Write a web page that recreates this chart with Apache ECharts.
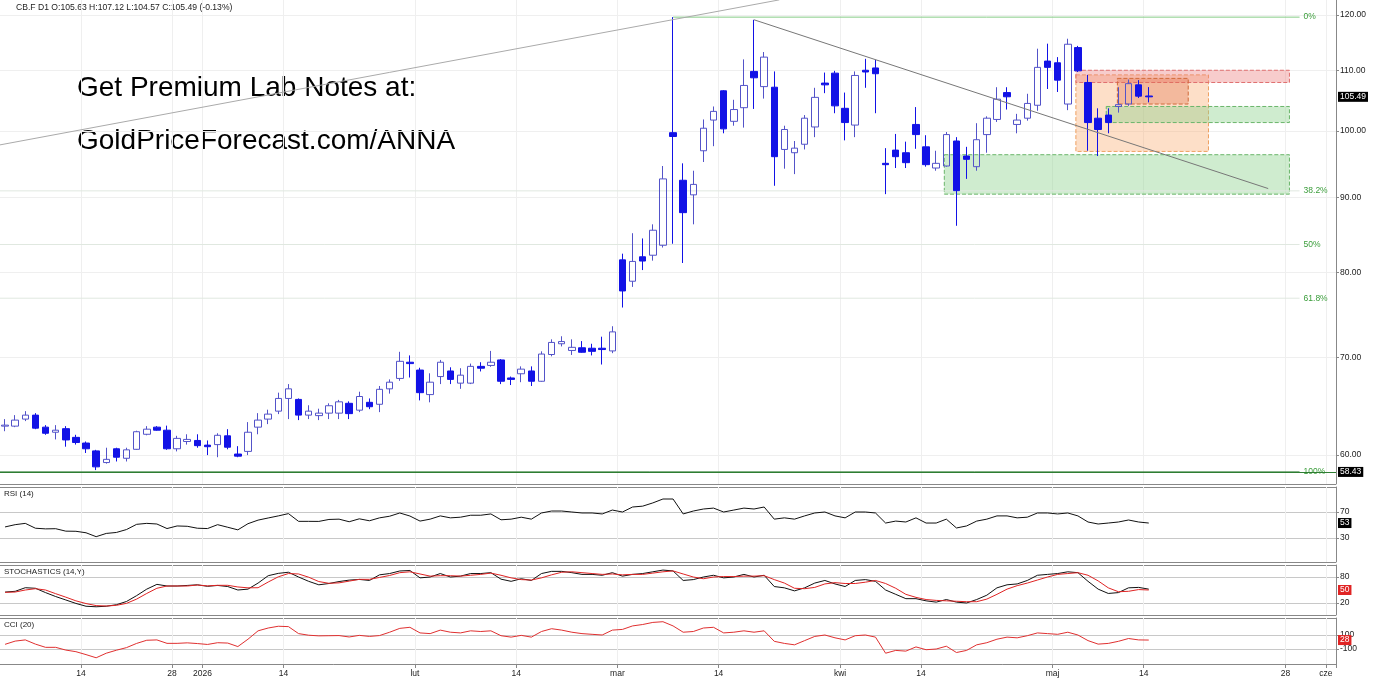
<!DOCTYPE html>
<html>
<head>
<meta charset="utf-8">
<script src="https://cdn.jsdelivr.net/npm/echarts@6/dist/echarts.min.js"></script>
<style>html,body{margin:0;padding:0;background:#fff}#main{width:1386px;height:682px}</style>
</head>
<body>
<div id="main"></div>
<script>
// sesje handlowe do 14 maja, dalej dni kalendarzowe (obszar przyszlosci)
var holidays = ['2025-12-25', '2026-01-01', '2026-04-03'];
var firstDay = '2025-12-03', lastTradeDay = '2026-05-14', lastDay = '2026-06-01';
var dates = [];
(function () {
  var d = new Date(firstDay + 'T00:00:00Z');
  while (d.toISOString().slice(0, 10) <= lastDay) {
    var s = d.toISOString().slice(0, 10), wd = d.getUTCDay();
    if (s > lastTradeDay || (wd !== 0 && wd !== 6 && holidays.indexOf(s) < 0)) dates.push(s);
    d.setUTCDate(d.getUTCDate() + 1);
  }
})();

var tickDates = ['2025-12-15', '2025-12-29', '2026-01-02', '2026-01-14', '2026-02-02', '2026-02-16', '2026-03-02',
  '2026-03-16', '2026-04-01', '2026-04-14', '2026-05-01', '2026-05-14', '2026-05-28', '2026-06-01'];
var tickTexts = ['14', '28', '2026', '14', 'lut', '14', 'mar', '14', 'kwi', '14', 'maj', '14', '28', 'cze'];

var open = [62.8, 62.8, 63.5, 63.9, 62.7, 62.2, 62.55, 61.7, 61.15, 60.4,
  59.3, 60.6, 59.7, 60.55, 62.0, 62.7, 62.4, 60.6, 61.3, 61.4,
  60.95, 61.0, 61.85, 60.1, 60.35, 62.7, 63.5, 64.3, 65.6, 65.5,
  63.9, 63.85, 64.1, 64.1, 65.1, 64.4, 65.2, 65.0, 66.6, 67.7,
  69.45, 68.6, 66.0, 67.9, 68.5, 67.2, 67.2, 69.0, 69.1, 69.7,
  67.75, 68.2, 68.5, 67.4, 70.3, 71.5, 70.75, 71.05, 71.0, 71.0,
  70.7, 81.6, 78.9, 82.0, 82.2, 83.5, 99.7, 92.5, 90.4, 96.9,
  101.7, 106.5, 101.5, 103.7, 109.8, 107.2, 107.1, 97.1, 96.6, 97.9,
  100.6, 107.8, 109.5, 103.6, 100.9, 110.0, 110.4, 95.0, 97.0, 96.6,
  101.0, 97.5, 94.3, 94.6, 98.4, 96.1, 94.5, 99.4, 101.8, 106.2,
  101.0, 102.0, 104.1, 111.6, 111.3, 104.3, 114.0, 107.9, 102.0, 102.5,
  103.9, 104.3, 107.5, 105.63];
var close = [62.9, 63.4, 63.9, 62.6, 62.1, 62.4, 61.45, 61.2, 60.6, 58.9,
  59.6, 59.8, 60.5, 62.25, 62.5, 62.4, 60.6, 61.6, 61.5, 60.9,
  60.8, 61.9, 60.75, 59.9, 62.2, 63.4, 64.0, 65.6, 66.6, 63.9,
  64.3, 64.1, 64.85, 65.25, 64.05, 65.8, 64.75, 66.55, 67.3, 69.55,
  69.3, 66.2, 67.3, 69.45, 67.6, 68.05, 69.0, 68.8, 69.45, 67.4,
  67.6, 68.7, 67.4, 70.35, 71.65, 71.75, 71.1, 70.55, 70.65, 70.85,
  72.85, 77.7, 81.4, 81.45, 85.5, 92.7, 99.1, 87.9, 91.9, 100.4,
  103.1, 100.3, 103.4, 107.4, 108.7, 112.3, 96.0, 100.2, 97.3, 102.0,
  105.4, 107.5, 104.0, 101.3, 109.1, 109.7, 109.4, 94.8, 96.0, 95.1,
  99.4, 94.8, 95.0, 99.4, 91.0, 95.6, 98.6, 102.0, 105.1, 105.5,
  101.7, 104.4, 110.5, 110.5, 108.3, 114.6, 109.9, 101.3, 100.2, 101.3,
  104.2, 107.7, 105.6, 105.49];
var low = [62.3, 62.7, 63.3, 62.5, 61.95, 61.5, 60.8, 61.0, 60.2, 58.6,
  59.2, 59.4, 59.4, 60.5, 61.9, 62.35, 60.5, 60.35, 61.0, 60.7,
  60.0, 59.8, 60.55, 59.8, 60.0, 62.0, 63.0, 64.0, 63.5, 63.4,
  63.5, 63.4, 63.5, 63.5, 63.5, 64.2, 64.5, 64.2, 66.1, 67.45,
  67.8, 65.4, 65.2, 67.1, 67.1, 66.6, 67.1, 68.45, 68.95, 67.1,
  67.0, 67.3, 66.9, 67.35, 70.1, 71.2, 70.25, 70.5, 70.2, 69.2,
  70.45, 75.7, 78.2, 80.3, 81.5, 83.2, 83.7, 81.2, 86.3, 95.2,
  97.6, 99.6, 100.8, 100.5, 103.5, 105.2, 91.7, 94.2, 93.4, 97.1,
  99.0, 106.1, 102.8, 98.5, 99.0, 107.0, 102.8, 90.5, 94.3, 94.3,
  97.2, 94.5, 93.9, 94.5, 86.1, 92.7, 93.9, 96.6, 101.4, 103.4,
  99.6, 101.6, 103.2, 106.8, 106.3, 103.3, 109.7, 96.9, 96.1, 99.6,
  102.9, 104.0, 105.3, 104.57];
var high = [63.5, 63.9, 64.3, 64.1, 62.9, 62.9, 62.8, 61.95, 61.3, 60.5,
  60.7, 60.7, 60.7, 62.35, 62.8, 62.8, 62.85, 61.85, 62.0, 62.0,
  61.4, 62.1, 62.5, 60.85, 63.2, 64.1, 64.45, 66.2, 67.1, 65.6,
  64.9, 64.55, 65.1, 65.45, 65.3, 66.3, 65.6, 66.9, 67.6, 70.6,
  70.2, 68.85, 68.25, 69.7, 68.9, 68.8, 69.3, 69.45, 70.7, 69.8,
  67.9, 69.0, 69.0, 70.65, 72.0, 72.35, 72.0, 71.8, 71.5, 72.3,
  73.5, 82.4, 85.1, 84.4, 86.3, 94.6, 119.6, 95.0, 93.9, 101.8,
  103.9, 106.6, 105.0, 111.9, 119.1, 113.2, 109.8, 100.8, 98.4, 102.5,
  107.0, 109.6, 109.9, 106.2, 109.8, 112.0, 111.8, 97.3, 99.5, 98.3,
  103.8, 99.3, 96.9, 99.8, 99.0, 97.5, 101.2, 102.3, 107.1, 107.1,
  102.7, 106.0, 113.8, 114.7, 112.3, 115.6, 114.3, 109.2, 103.6, 103.6,
  107.1, 108.4, 108.3, 107.12];

var rsi = [47, 50.5, 52.5, 45, 44, 44.3, 40.5, 40.3, 38, 32,
  37, 38.5, 43, 51, 52.5, 51.5, 44.5, 48.5, 48, 45,
  44.5, 50.5, 46.5, 42.5, 52, 57.5, 60.8, 64, 67.5, 55.6,
  55.6, 55.5, 58.5, 59, 55, 59.5, 56.5, 61, 63.5, 68.5,
  63.8, 56, 59, 64, 61, 62, 65, 65, 67, 58,
  59, 62, 59, 68.5, 71.5, 71.5, 70, 68.5, 68.5, 67,
  73, 70, 77.7, 79, 84, 90, 90, 67, 71.5, 74.6,
  76, 70, 73, 76, 74.6, 77.7, 59, 61, 59, 64,
  68.5, 70, 64, 61, 70, 70, 68.5, 53, 56, 54.6,
  61, 53, 53, 59, 45.4, 48.5, 56, 59, 64, 64,
  61, 62, 68.5, 68.5, 67, 68.5, 64, 54.6, 51.5, 53,
  54.6, 57.7, 54.6, 53];
var stochK = [45.2, 47, 55.3, 54, 44, 34.9, 27, 19, 12.5, 11.3,
  12.5, 16, 23.5, 37, 52, 63, 59.2, 59.2, 60.5, 62,
  58.5, 60.5, 58, 50, 52, 66, 83, 88.4, 91, 80,
  70, 62, 65, 69.5, 72.8, 74.4, 72, 85, 88, 93.9,
  95, 78, 80, 88, 80, 82, 88, 88, 90, 75,
  70, 76, 72, 88, 93, 93, 90, 86, 86, 84,
  90, 82, 86, 88, 92, 96, 94, 72, 74, 80,
  84, 78, 80, 86, 80, 84, 58, 55, 48, 55,
  66, 72, 64, 58, 72, 74, 70, 50, 40, 30,
  30, 25, 22, 28, 22, 20, 28, 38, 55, 62,
  64, 72, 84, 86, 88, 92, 90, 70, 52, 42,
  44, 55, 56, 52];
var stochD = [44.6, 45.3, 50, 53, 50, 41.5, 33.5, 25, 18.7, 14,
  13, 14.6, 19.2, 29, 42, 54, 59.2, 59.2, 59.2, 61.5,
  59.5, 60.8, 60.8, 57, 55, 55.3, 68.4, 80.5, 88, 87,
  79.5, 69.5, 65.4, 66.5, 70.5, 74.6, 74.6, 79, 83.5, 90,
  92, 87, 82, 83, 83, 82, 84, 86, 89, 84,
  78, 74, 73, 78, 85, 91, 92, 90, 88, 86,
  87, 85, 86, 86, 89, 92, 94, 87, 80, 76,
  80, 81, 81, 82, 82, 83, 74, 66, 54, 53,
  56, 64, 67, 65, 65, 68, 72, 65, 54, 40,
  33, 28, 26, 25, 24, 23, 23, 29, 40, 52,
  60, 66, 73, 80, 86, 88, 90, 84, 71, 55,
  46, 47, 51, 50];
var cci = [-33, 13, 30, -30, -76, -76, -115, -138, -180, -225,
  -160, -117, -80, -20, 25, 30, -19, -19, -12, -22,
  -35, -10, -15, -65, 40, 160, 200, 225, 220, 120,
  97, 88, 90, 92, 72, 95, 80, 92, 140, 195,
  210, 130, 120, 170, 140, 130, 160, 150, 160, 90,
  70, 95, 70, 150, 190, 170, 140, 120, 110, 100,
  170, 180, 230, 250, 280, 290, 230, 140, 150, 200,
  210, 130, 140, 160, 140, 160, 10, -20, -40, 20,
  80, 100, 60, 30, 90, 100, 70, -160, -120, -130,
  -70, -110, -100, -60, -150, -120, -40, -10, 40, 70,
  60, 90, 130, 120, 110, 140, 100, 20, -30, -20,
  10, 50, 30, 28];

var priceTicks = [60, 70, 80, 90, 100, 110, 120];
var baseLine = 58.43;
var fibHigh = 119.6, fibLow = 58.43;
var fibRatios = [0, 0.382, 0.5, 0.618, 1];
var fibTexts = ['0%', '38.2%', '50%', '61.8%', '100%'];
var trendUp = [[-0.5, 97.8], [76.5, 122.9]];
var trendDown = [[74, 119.1], [124.8, 91.3]];
// strefy: [od, do, gora, dol, rodzaj]
var zones = [[92.8, 126.9, 96.3, 90.5, 'green'], [105.8, 118.9, 109.2, 96.8, 'orange'],
  [105.8, 126.9, 110.0, 107.9, 'red'], [108.8, 126.9, 103.9, 101.3, 'green'],
  [109.9, 116.9, 108.6, 104.3, 'dark']];

var font = '"Liberation Sans", Arial, sans-serif';
var n = close.length - 1;
var candles = open.map(function (o, i) { return [o, close[i], low[i], high[i]]; });
var tickIdx = tickDates.map(function (d) { return dates.indexOf(d); });
var isTick = function (i, v) { return tickDates.indexOf(v) >= 0; };
var zoneStyle = {
  green: {color: 'rgba(140,210,140,0.42)', borderColor: '#6ab56a'},
  orange: {color: 'rgba(250,170,110,0.38)', borderColor: '#eea060'},
  red: {color: 'rgba(236,128,128,0.40)', borderColor: '#e07070'},
  dark: {color: 'rgba(225,110,70,0.33)', borderColor: '#d06a3a'}
};

function catAxis(grid, extra) {
  var ax = {type: 'category', gridIndex: grid, data: dates, boundaryGap: true, position: 'bottom',
    axisLine: {show: false, onZero: false}, axisTick: {show: false}, axisLabel: {show: false},
    splitLine: {show: true, interval: isTick, lineStyle: {color: '#efefef'}}};
  for (var k in extra) ax[k] = extra[k];
  return ax;
}
function indAxis(grid, min, max, vals) {
  return {type: 'value', gridIndex: grid, position: 'right', min: min, max: max,
    axisLine: {show: true, onZero: false, lineStyle: {color: '#888'}},
    axisTick: {show: true, length: 3, customValues: vals, lineStyle: {color: '#888'}},
    axisLabel: {customValues: vals, fontSize: 8.5, color: '#222', margin: 4, fontFamily: font},
    splitLine: {show: true, lineStyle: {color: '#c8c8c8'}}};
}
function valueBox(v, bg, txt) {
  return {yAxis: v, lineStyle: {color: 'rgba(0,0,0,0)', width: 0},
    label: {show: true, position: 'end', distance: 2, formatter: txt, backgroundColor: bg, color: '#fff',
      padding: [1, 2, 0, 2], fontSize: 8.5, fontFamily: font}};
}

// poziomy Fibonacciego jako osobne serie liniowe
var fibSeries = fibRatios.map(function (r, i) {
  var lvl = Math.exp(Math.log(fibHigh) + r * (Math.log(fibLow) - Math.log(fibHigh)));
  var col = r === 0 ? '#86cc86' : (r === 1 ? '#2e7d32' : '#e0e8e0');
  return {type: 'line', xAxisIndex: 1, yAxisIndex: 0, silent: true, symbol: 'none', z: 1,
    data: [[r === 0 ? 66 : -0.5, lvl], [127.9, lvl]],
    lineStyle: {color: col, width: 1},
    endLabel: {show: true, distance: 4, formatter: fibTexts[i], color: '#3a9d3a', fontSize: 8.5, fontFamily: font}};
});

var myChart = echarts.init(document.getElementById('main'));
var option = {
  animation: false,
  backgroundColor: '#fff',
  textStyle: {fontFamily: font},
  grid: [
    {left: 0, top: 0, width: 1336, height: 484},
    {left: 0, top: 487, width: 1336, height: 75},
    {left: 0, top: 565, width: 1336, height: 50},
    {left: 0, top: 618, width: 1336, height: 46}
  ],
  xAxis: [
    catAxis(0),
    {type: 'value', gridIndex: 0, min: -0.5, max: 131.5, show: false, position: 'top', axisLine: {onZero: false}},
    catAxis(1),
    catAxis(2),
    catAxis(3, {axisLine: {show: true, onZero: false, lineStyle: {color: '#888'}},
      axisTick: {show: true, interval: isTick, length: 4, lineStyle: {color: '#888'}}}),
    {type: 'value', gridIndex: 3, min: -0.5, max: 131.5, position: 'bottom',
      axisLine: {show: false, onZero: false}, axisTick: {show: false}, splitLine: {show: false},
      axisLabel: {customValues: tickIdx.map(function (k) { return k - 0.5; }), fontSize: 8.5, color: '#222', margin: 5,
        formatter: function (v) { return tickTexts[tickIdx.indexOf(Math.round(v + 0.5))]; }}}
  ],
  yAxis: [
    {type: 'log', gridIndex: 0, position: 'right', min: 57.33, max: 122.87,
      axisLine: {show: true, onZero: false, lineStyle: {color: '#888'}},
      axisTick: {show: true, length: 3, customValues: priceTicks, lineStyle: {color: '#888'}},
      axisLabel: {customValues: priceTicks, fontSize: 8.5, color: '#222', margin: 4,
        formatter: function (v) { return v.toFixed(2); }},
      splitLine: {show: true, lineStyle: {color: '#efefef'}}},
    indAxis(1, -7, 108.5, [30, 70]),
    indAxis(2, -7.7, 107.7, [20, 80]),
    indAxis(3, -314, 343, [-100, 100])
  ],
  graphic: [
    {type: 'text', left: 16, top: 3, style: {text: 'CB.F D1 O:' + open[n] + ' H:' + high[n] + ' L:' + low[n] + ' C:' + close[n] + ' (-0.13%)', font: '8.6px ' + font, fill: '#222'}},
    {type: 'text', left: 77, top: 74, style: {text: 'Get Premium Lab Notes at:', font: '28px ' + font, fill: '#000'}},
    {type: 'text', left: 77, top: 127, style: {text: 'GoldPriceForecast.com/ANNA', font: '28px ' + font, fill: '#000'}},
    {type: 'text', left: 4, top: 490, style: {text: 'RSI (14)', font: '8px ' + font, fill: '#222'}},
    {type: 'text', left: 4, top: 568, style: {text: 'STOCHASTICS (14,Y)', font: '8px ' + font, fill: '#222'}},
    {type: 'text', left: 4, top: 621, style: {text: 'CCI (20)', font: '8px ' + font, fill: '#222'}},
    {type: 'line', shape: {x1: 0, y1: 484.5, x2: 1336, y2: 484.5}, style: {stroke: '#888', lineWidth: 1}},
    {type: 'line', shape: {x1: 0, y1: 487.5, x2: 1336, y2: 487.5}, style: {stroke: '#888', lineWidth: 1}},
    {type: 'line', shape: {x1: 0, y1: 562.5, x2: 1336, y2: 562.5}, style: {stroke: '#888', lineWidth: 1}},
    {type: 'line', shape: {x1: 0, y1: 565.5, x2: 1336, y2: 565.5}, style: {stroke: '#888', lineWidth: 1}},
    {type: 'line', shape: {x1: 0, y1: 615.5, x2: 1336, y2: 615.5}, style: {stroke: '#888', lineWidth: 1}},
    {type: 'line', shape: {x1: 0, y1: 618.5, x2: 1336, y2: 618.5}, style: {stroke: '#888', lineWidth: 1}}
  ],
  series: [
    {type: 'candlestick', xAxisIndex: 0, yAxisIndex: 0, data: candles, barWidth: 7, z: 2,
      itemStyle: {color: 'rgba(255,255,255,0)', color0: '#1212e6', borderColor: '#5353c9', borderColor0: '#1212e6', borderWidth: 1},
      markLine: {silent: true, symbol: ['none', 'none'], animation: false, data: [
        valueBox(close[n], '#000', close[n].toFixed(2)),
        {yAxis: baseLine, lineStyle: {color: '#2e7d32', width: 1, type: 'solid'},
          label: {show: true, position: 'end', distance: 2, formatter: baseLine.toFixed(2), backgroundColor: '#000', color: '#fff',
            padding: [1, 2, 0, 2], fontSize: 8.5, fontFamily: font}}
      ]}},
    {type: 'line', xAxisIndex: 1, yAxisIndex: 0, data: trendUp, symbol: 'none', silent: true, z: 3,
      lineStyle: {color: '#aaa', width: 1}},
    {type: 'line', xAxisIndex: 1, yAxisIndex: 0, data: trendDown, symbol: 'none', silent: true, z: 4,
      lineStyle: {color: '#777', width: 1},
      markArea: {silent: true, data: zones.map(function (z) {
        var st = zoneStyle[z[4]];
        return [{coord: [z[0], z[2]], itemStyle: {color: st.color, borderColor: st.borderColor, borderWidth: 1, borderType: 'dashed'}},
          {coord: [z[1], z[3]]}];
      })}},
    {type: 'line', xAxisIndex: 2, yAxisIndex: 1, data: rsi, symbol: 'none', lineStyle: {color: '#111', width: 1},
      markLine: {silent: true, symbol: ['none', 'none'], data: [valueBox(rsi[n], '#000', String(rsi[n]))]}},
    {type: 'line', xAxisIndex: 3, yAxisIndex: 2, data: stochK, symbol: 'none', lineStyle: {color: '#111', width: 1}},
    {type: 'line', xAxisIndex: 3, yAxisIndex: 2, data: stochD, symbol: 'none', lineStyle: {color: '#e02424', width: 1},
      markLine: {silent: true, symbol: ['none', 'none'], data: [valueBox(stochD[n], '#e02424', String(stochD[n]))]}},
    {type: 'line', xAxisIndex: 4, yAxisIndex: 3, data: cci, symbol: 'none', lineStyle: {color: '#e03030', width: 1},
      markLine: {silent: true, symbol: ['none', 'none'], data: [valueBox(cci[n], '#e02424', String(cci[n]))]}}
  ].concat(fibSeries)
};
myChart.setOption(option);
</script>
</body>
</html>
